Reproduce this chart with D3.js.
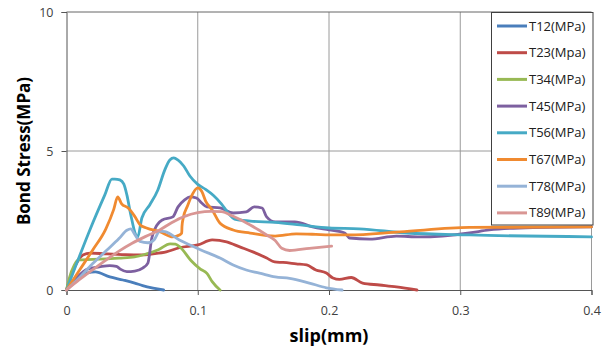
<!DOCTYPE html>
<html>
<head>
<meta charset="utf-8">
<script src="https://cdn.jsdelivr.net/npm/d3@7"></script>
<style>
  body { margin: 0; background: #fff; }
  text { font-family: "Open Sans", sans-serif; }
</style>
</head>
<body>
<div class="graph"></div>
<script>
const w = 609;
const h = 356;
const margin = {top: 12, right: 17.5, bottom: 66, left: 66.5};

// tick values
const xTicks = [0, 0.1, 0.2, 0.3, 0.4];
const yTicks = [0, 5, 10];

// series names + colours
const names = ["T12(MPa)", "T23(Mpa)", "T34(MPa)", "T45(MPa)", "T56(MPa)", "T67(MPa)", "T78(MPa)", "T89(MPa)"];
const colors = ["#4a7ebb", "#be4b48", "#98b954", "#7d60a0", "#46aac5", "#f08a30", "#95b3d7", "#d99694"];

// [slip (mm), bond stress (MPa)]
const t12 = [[0,0],[0.005,0.25],[0.01,0.5],[0.016,0.62],[0.022,0.65],[0.033,0.47],[0.043,0.36],[0.052,0.25],[0.058,0.16],[0.066,0.07],[0.074,0]];
const t23 = [[0,0],[0.002,0.3],[0.006,0.8],[0.0125,1.26],[0.018,1.33],[0.03,1.3],[0.045,1.27],[0.056,1.26],[0.066,1.3],[0.076,1.37],[0.086,1.52],[0.1,1.62],[0.111,1.8],[0.122,1.73],[0.132,1.55],[0.142,1.37],[0.1525,1.15],[0.1586,1.01],[0.165,0.99],[0.175,0.94],[0.183,0.9],[0.19,0.72],[0.198,0.61],[0.203,0.43],[0.208,0.38],[0.217,0.45],[0.2256,0.25],[0.2385,0.18],[0.2514,0.11],[0.267,0]];
const t34 = [[0,0],[0.002,0.4],[0.006,0.9],[0.009,1.08],[0.02,1.1],[0.04,1.15],[0.052,1.19],[0.061,1.3],[0.07,1.45],[0.079,1.66],[0.083,1.65],[0.087,1.52],[0.095,1.05],[0.102,0.75],[0.107,0.6],[0.111,0.3],[0.117,0]];
const t45 = [[0,0],[0.008,0.45],[0.016,0.75],[0.025,0.83],[0.033,0.88],[0.038,0.85],[0.041,0.75],[0.046,0.66],[0.052,0.68],[0.058,0.79],[0.062,0.97],[0.065,1.87],[0.069,2.34],[0.073,2.52],[0.081,2.63],[0.085,2.99],[0.09,3.24],[0.094,3.35],[0.099,3.31],[0.103,3.13],[0.107,2.99],[0.117,2.95],[0.127,2.77],[0.137,2.81],[0.143,2.99],[0.149,2.95],[0.1525,2.63],[0.159,2.45],[0.174,2.45],[0.1875,2.27],[0.2,2.16],[0.212,2.05],[0.2157,1.87],[0.231,1.83],[0.2514,1.94],[0.269,1.91],[0.307,2.05],[0.322,2.16],[0.345,2.23],[0.4,2.27]];
const t56 = [[0,0],[0.0064,0.79],[0.0178,2.16],[0.0292,3.42],[0.0346,3.99],[0.0368,3.99],[0.0406,3.96],[0.0437,3.81],[0.046,3.42],[0.049,2.7],[0.0528,1.98],[0.0543,1.91],[0.0574,2.59],[0.0634,3.06],[0.0696,3.6],[0.0749,4.32],[0.0787,4.68],[0.0817,4.75],[0.0848,4.68],[0.0893,4.46],[0.094,4.1],[0.1,3.8],[0.106,3.62],[0.112,3.4],[0.118,3.1],[0.124,2.72],[0.128,2.55],[0.14,2.48],[0.159,2.43],[0.178,2.34],[0.2,2.23],[0.223,2.2],[0.259,2.05],[0.307,1.98],[0.4,1.91]];
const t67 = [[0,0],[0.01,0.72],[0.02,1.44],[0.03,2.2],[0.036,2.9],[0.039,3.35],[0.042,3.1],[0.047,2.95],[0.052,2.65],[0.056,2.35],[0.061,2.23],[0.071,2.1],[0.081,1.91],[0.086,1.98],[0.0878,2.05],[0.088,2.3],[0.089,2.6],[0.092,3.0],[0.096,3.45],[0.1,3.67],[0.103,3.55],[0.106,3.2],[0.111,2.88],[0.117,2.4],[0.127,2.16],[0.14,2.05],[0.159,1.94],[0.175,2.02],[0.19,2.0],[0.2,1.98],[0.215,1.98],[0.254,2.09],[0.307,2.25],[0.4,2.27]];
const t78 = [[0,0],[0.01,0.45],[0.02,0.95],[0.03,1.4],[0.04,1.85],[0.046,2.15],[0.049,2.2],[0.052,2.0],[0.056,1.75],[0.062,1.7],[0.067,1.82],[0.071,2.12],[0.075,2.1],[0.086,1.8],[0.095,1.6],[0.102,1.45],[0.117,1.15],[0.127,0.9],[0.137,0.72],[0.147,0.61],[0.159,0.47],[0.17,0.42],[0.185,0.25],[0.198,0.08],[0.21,0]];
const t89 = [[0,0],[0.01,0.38],[0.025,0.9],[0.04,1.4],[0.05,1.68],[0.06,1.92],[0.071,2.16],[0.08,2.42],[0.09,2.65],[0.1,2.78],[0.11,2.83],[0.118,2.82],[0.127,2.65],[0.14,2.34],[0.1525,1.98],[0.159,1.78],[0.164,1.5],[0.17,1.42],[0.185,1.5],[0.202,1.58]];

const series = [t12, t23, t34, t45, t56, t67, t78, t89];

const canvas = d3.select(".graph")
  .append("svg")
  .attr("width", w)
  .attr("height", h);

const xScale = d3.scaleLinear()
  .domain([0, 0.4])
  .range([margin.left, w - margin.right]);

const yScale = d3.scaleLinear()
  .domain([0, 10])
  .range([h - margin.bottom, margin.top]);

// gridlines
canvas.append("g")
  .selectAll("line")
  .data(xTicks.slice(1))
  .enter().append("line")
  .attr("x1", d => xScale(d)).attr("x2", d => xScale(d))
  .attr("y1", yScale(10)).attr("y2", yScale(0))
  .attr("stroke", "#9a9a9a").attr("stroke-width", 1);

canvas.append("g")
  .selectAll("line")
  .data(yTicks.slice(1))
  .enter().append("line")
  .attr("x1", xScale(0)).attr("x2", xScale(0.4))
  .attr("y1", d => yScale(d)).attr("y2", d => yScale(d))
  .attr("stroke", d => d === 10 ? "#666" : "#9a9a9a").attr("stroke-width", 1);

// axes
const xAxis = d3.axisBottom(xScale)
  .tickValues(xTicks)
  .tickFormat(d => d === 0 ? "0" : d3.format(".1f")(d))
  .tickSize(5)
  .tickPadding(11);

const yAxis = d3.axisLeft(yScale)
  .tickValues(yTicks)
  .tickSize(5)
  .tickPadding(8);

const gx = canvas.append("g")
  .attr("id", "x-axis")
  .attr("transform", `translate(0, ${yScale(0)})`)
  .call(xAxis);

const gy = canvas.append("g")
  .attr("id", "y-axis")
  .attr("transform", `translate(${xScale(0)}, 0)`)
  .call(yAxis);

[gx, gy].forEach(g => {
  g.select(".domain").attr("stroke", "#555");
  g.selectAll(".tick line").attr("stroke", "#555");
  g.selectAll(".tick text")
    .attr("fill", "#404040")
    .style("font-family", "'Open Sans', sans-serif")
    .style("font-size", "12.5px");
});

// curves
const line = d3.line()
  .x(d => xScale(d[0]))
  .y(d => yScale(d[1]))
  .curve(d3.curveMonotoneX);

canvas.append("g")
  .selectAll("path")
  .data(series)
  .enter().append("path")
  .attr("d", line)
  .attr("fill", "none")
  .attr("stroke", (d, i) => colors[i])
  .attr("stroke-width", 2.8)
  .attr("stroke-linejoin", "round")
  .attr("stroke-linecap", "round");

// axis titles
canvas.append("text")
  .attr("x", (xScale(0) + xScale(0.4)) / 2)
  .attr("y", 342)
  .attr("text-anchor", "middle")
  .attr("font-weight", "bold")
  .attr("font-size", "18px")
  .attr("fill", "#000")
  .text("slip(mm)");

canvas.append("text")
  .attr("transform", `translate(30, ${(yScale(0) + yScale(10)) / 2}) rotate(-90)`)
  .attr("text-anchor", "middle")
  .attr("font-weight", "bold")
  .attr("font-size", "17px")
  .attr("fill", "#000")
  .text("Bond Stress(MPa)");

// legend
const legend = canvas.append("g")
  .attr("id", "legend");

legend.append("rect")
  .attr("x", 491.5).attr("y", 12.5)
  .attr("width", 101.5).attr("height", 212.5)
  .attr("fill", "#fff")
  .attr("stroke", "#404040")
  .attr("stroke-width", 1);

const item = legend.selectAll("g.item")
  .data(names)
  .enter().append("g")
  .attr("class", "item")
  .attr("transform", (d, i) => `translate(0, ${26 + i * 26.7})`);

item.append("line")
  .attr("x1", 497).attr("x2", 527)
  .attr("stroke", (d, i) => colors[i])
  .attr("stroke-width", 3);

item.append("text")
  .attr("x", 529)
  .attr("dy", "0.35em")
  .attr("font-size", "13px")
  .attr("fill", "#202020")
  .text(d => d);
</script>
</body>
</html>
